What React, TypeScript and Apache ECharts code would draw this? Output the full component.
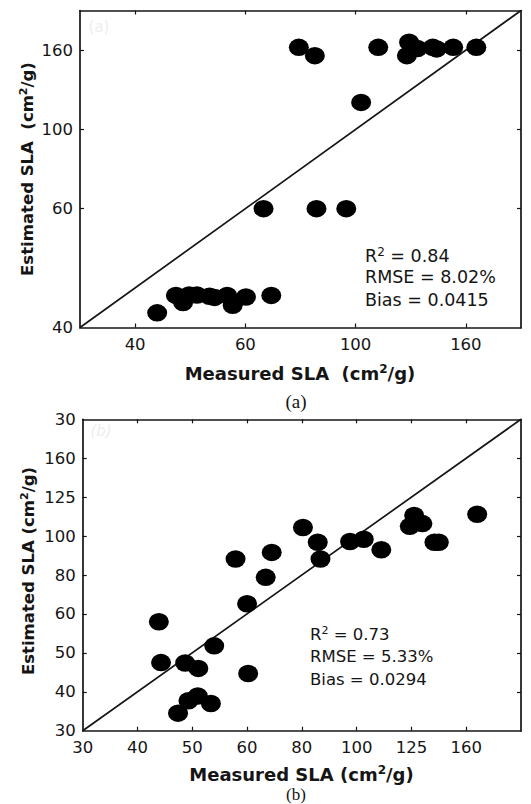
import React, { useEffect, useRef } from 'react';
import * as echarts from 'echarts';

// Axis positions are the evenly spaced tick slots of the original figure.
const AXIS_MIN = 0;
const AXIS_MAX = 8;

// ---------- Panel (a) ----------
const xTickPosA = [1, 3, 5, 7];
const xTickLabelsA = ['40', '60', '100', '160'];
const yTickPosA = [0, 3, 5, 7];
const yTickLabelsA = ['40', '60', '100', '160'];
const measuredA = [
  3.97, 4.26, 5.41, 5.97, 5.93, 6.12, 6.40, 6.47, 6.77, 7.19, 5.10,
  3.33, 4.29, 4.83,
  1.40, 1.74, 1.87, 1.98, 2.12, 2.35, 2.44, 2.67, 2.77, 3.01, 3.47,
];
const estimatedA = [
  7.07, 6.86, 7.07, 7.20, 6.86, 7.04, 7.07, 7.03, 7.07, 7.07, 5.68,
  3.0, 3.0, 3.0,
  0.37, 0.81, 0.63, 0.82, 0.82, 0.79, 0.76, 0.81, 0.56, 0.77, 0.81,
];
const statsA = ['0.84', '8.02%', '0.0415'];

// ---------- Panel (b) ----------
const xTickPosB = [0, 1, 2, 3, 4, 5, 6, 7];
const xTickLabelsB = ['30', '40', '50', '60', '80', '100', '125', '160'];
const yTickPosB = [0, 1, 2, 3, 4, 5, 6, 7, 8];
const yTickLabelsB = ['30', '40', '50', '60', '80', '100', '125', '160', '30'];
const measuredB = [
  2.79, 3.34, 3.45, 4.02, 4.29, 4.34, 4.88, 5.13, 5.45, 6.05, 5.97, 6.20, 6.42, 6.50, 7.20,
  3.00, 1.39, 1.43, 1.87, 2.11, 2.40, 3.02, 2.10, 1.93, 2.34, 1.74,
];
const estimatedB = [
  4.41, 3.94, 4.58, 5.22, 4.84, 4.41, 4.86, 4.92, 4.65, 5.53, 5.25, 5.32, 4.84, 4.84, 5.56,
  3.26, 2.80, 1.75, 1.74, 1.60, 2.18, 1.47, 0.89, 0.77, 0.70, 0.45,
];
const statsB = ['0.73', '5.33%', '0.0294'];

const FONT = 'DejaVu Sans';
const INK = '#151515';
const ELLIPSE = 'path://M50,0A50,50,0,1,1,50,100A50,50,0,1,1,50,0Z';

function fmt(pos: number[], labels: string[]) {
  return (v: number) => {
    const i = pos.findIndex((p) => Math.abs(p - v) < 1e-6);
    return i >= 0 ? labels[i] : '';
  };
}
const interior = (pos: number[]) => pos.filter((p) => p > AXIS_MIN && p < AXIS_MAX);

function axis(grid: number, position: string, tickPos: number[], labelPos: number[] | null, labels: string[] | null) {
  return {
    type: 'value',
    gridIndex: grid,
    position,
    min: AXIS_MIN,
    max: AXIS_MAX,
    splitLine: { show: false },
    axisLine: { show: true, onZero: false, lineStyle: { color: INK, width: 1.7 } },
    axisTick: {
      show: true,
      inside: true,
      length: 4,
      customValues: interior(tickPos),
      lineStyle: { color: INK, width: 1.2 },
    },
    axisLabel: labelPos
      ? {
          show: true,
          customValues: labelPos,
          formatter: fmt(labelPos, labels as string[]),
          fontFamily: FONT,
          fontSize: 16.5,
          color: INK,
          margin: position === 'left' ? 7 : 8,
        }
      : { show: false },
  };
}

function richText(size: number, weight: string) {
  return {
    t: { fontFamily: FONT, fontSize: size, fontWeight: weight, fill: INK, lineHeight: size + 2 },
    s: { fontFamily: FONT, fontSize: Math.round(size * 0.68), fontWeight: weight, fill: INK, verticalAlign: 'top', lineHeight: Math.round(size * 0.68) },
  };
}

function label(x: number, y: number, text: string, size: number, weight: string, align: string, rotation = 0) {
  return {
    type: 'text',
    x,
    y,
    rotation,
    silent: true,
    style: {
      text,
      align,
      verticalAlign: 'middle',
      rich: richText(size, weight),
    },
  };
}

export default function App() {
  const ref = useRef<HTMLDivElement>(null);
  useEffect(() => {
    if (!ref.current) return;
    const chart = echarts.init(ref.current, null, { renderer: 'svg' });
    const diag = [[AXIS_MIN, AXIS_MIN], [AXIS_MAX, AXIS_MAX]];
    const ptsA = measuredA.map((m, i) => [m, estimatedA[i]]);
    const ptsB = measuredB.map((m, i) => [m, estimatedB[i]]);
    chart.setOption({
      animation: false,
      backgroundColor: '#ffffff',
      grid: [
        { left: 80, top: 10.5, width: 441, height: 317 },
        { left: 82.7, top: 419.3, width: 438.3, height: 311.4 },
      ],
      xAxis: [
        axis(0, 'bottom', xTickPosA, xTickPosA, xTickLabelsA),
        axis(0, 'top', xTickPosA, null, null),
        axis(1, 'bottom', xTickPosB, xTickPosB, xTickLabelsB),
        axis(1, 'top', xTickPosB, null, null),
      ],
      yAxis: [
        axis(0, 'left', yTickPosA, yTickPosA, yTickLabelsA),
        axis(0, 'right', yTickPosA, null, null),
        axis(1, 'left', yTickPosB, yTickPosB, yTickLabelsB),
        axis(1, 'right', yTickPosB, null, null),
      ],
      series: [
        {
          type: 'line', xAxisIndex: 0, yAxisIndex: 0, data: diag, showSymbol: false, silent: true,
          lineStyle: { color: INK, width: 1.7 }, z: 2,
        },
        {
          type: 'scatter', xAxisIndex: 0, yAxisIndex: 0, data: ptsA, symbol: ELLIPSE, symbolSize: [20, 17.5],
          itemStyle: { color: '#000', opacity: 1 }, z: 3,
        },
        {
          type: 'line', xAxisIndex: 2, yAxisIndex: 2, data: diag, showSymbol: false, silent: true,
          lineStyle: { color: INK, width: 1.7 }, z: 2,
        },
        {
          type: 'scatter', xAxisIndex: 2, yAxisIndex: 2, data: ptsB, symbol: ELLIPSE, symbolSize: [20, 17.5],
          itemStyle: { color: '#000', opacity: 1 }, z: 3,
        },
      ],
      graphic: [
        // faint panel tags inside plots
        { type: 'text', x: 99, y: 26.5, silent: true, style: { text: '(a)', align: 'center', verticalAlign: 'middle', fontFamily: FONT, fontSize: 15, fill: '#eeeeee' } },
        { type: 'text', x: 101, y: 431, silent: true, style: { text: '(b)', align: 'center', verticalAlign: 'middle', fontFamily: FONT, fontStyle: 'italic', fontSize: 15, fill: '#eeeeee' } },
        // axis titles panel (a)
        label(300, 373, '{t|Measured SLA  (cm}{s|2}{t|/g)}', 18, 'bold', 'center'),
        label(27, 169, '{t|Estimated SLA  (cm}{s|2}{t|/g)}', 16.5, 'bold', 'center', Math.PI / 2),
        // axis titles panel (b)
        label(301.5, 774, '{t|Measured SLA (cm}{s|2}{t|/g)}', 18, 'bold', 'center'),
        label(28.5, 571, '{t|Estimated SLA (cm}{s|2}{t|/g)}', 16.5, 'bold', 'center', Math.PI / 2),
        // stats panel (a)
        label(365, 255.5, `{t|R}{s|2}{t| = ${statsA[0]}}`, 17.5, 'normal', 'left'),
        label(365, 277.3, `{t|RMSE = ${statsA[1]}}`, 17.5, 'normal', 'left'),
        label(365, 299.5, `{t|Bias = ${statsA[2]}}`, 17.5, 'normal', 'left'),
        // stats panel (b)
        label(310, 634.2, `{t|R}{s|2}{t| = ${statsB[0]}}`, 16.5, 'normal', 'left'),
        label(310, 656.7, `{t|RMSE = ${statsB[1]}}`, 16.5, 'normal', 'left'),
        label(310, 679.2, `{t|Bias = ${statsB[2]}}`, 16.5, 'normal', 'left'),
        // captions
        { type: 'text', x: 296, y: 401, silent: true, style: { text: '(a)', align: 'center', verticalAlign: 'middle', fontFamily: 'Liberation Serif', fontSize: 19, fill: INK } },
        { type: 'text', x: 296, y: 794.5, silent: true, style: { text: '(b)', align: 'center', verticalAlign: 'middle', fontFamily: 'Liberation Serif', fontSize: 17, fill: INK } },
      ],
    });
    return () => chart.dispose();
  }, []);
  return <div ref={ref} style={{ position: 'absolute', left: 0, top: 0, width: 531, height: 804 }} />;
}
